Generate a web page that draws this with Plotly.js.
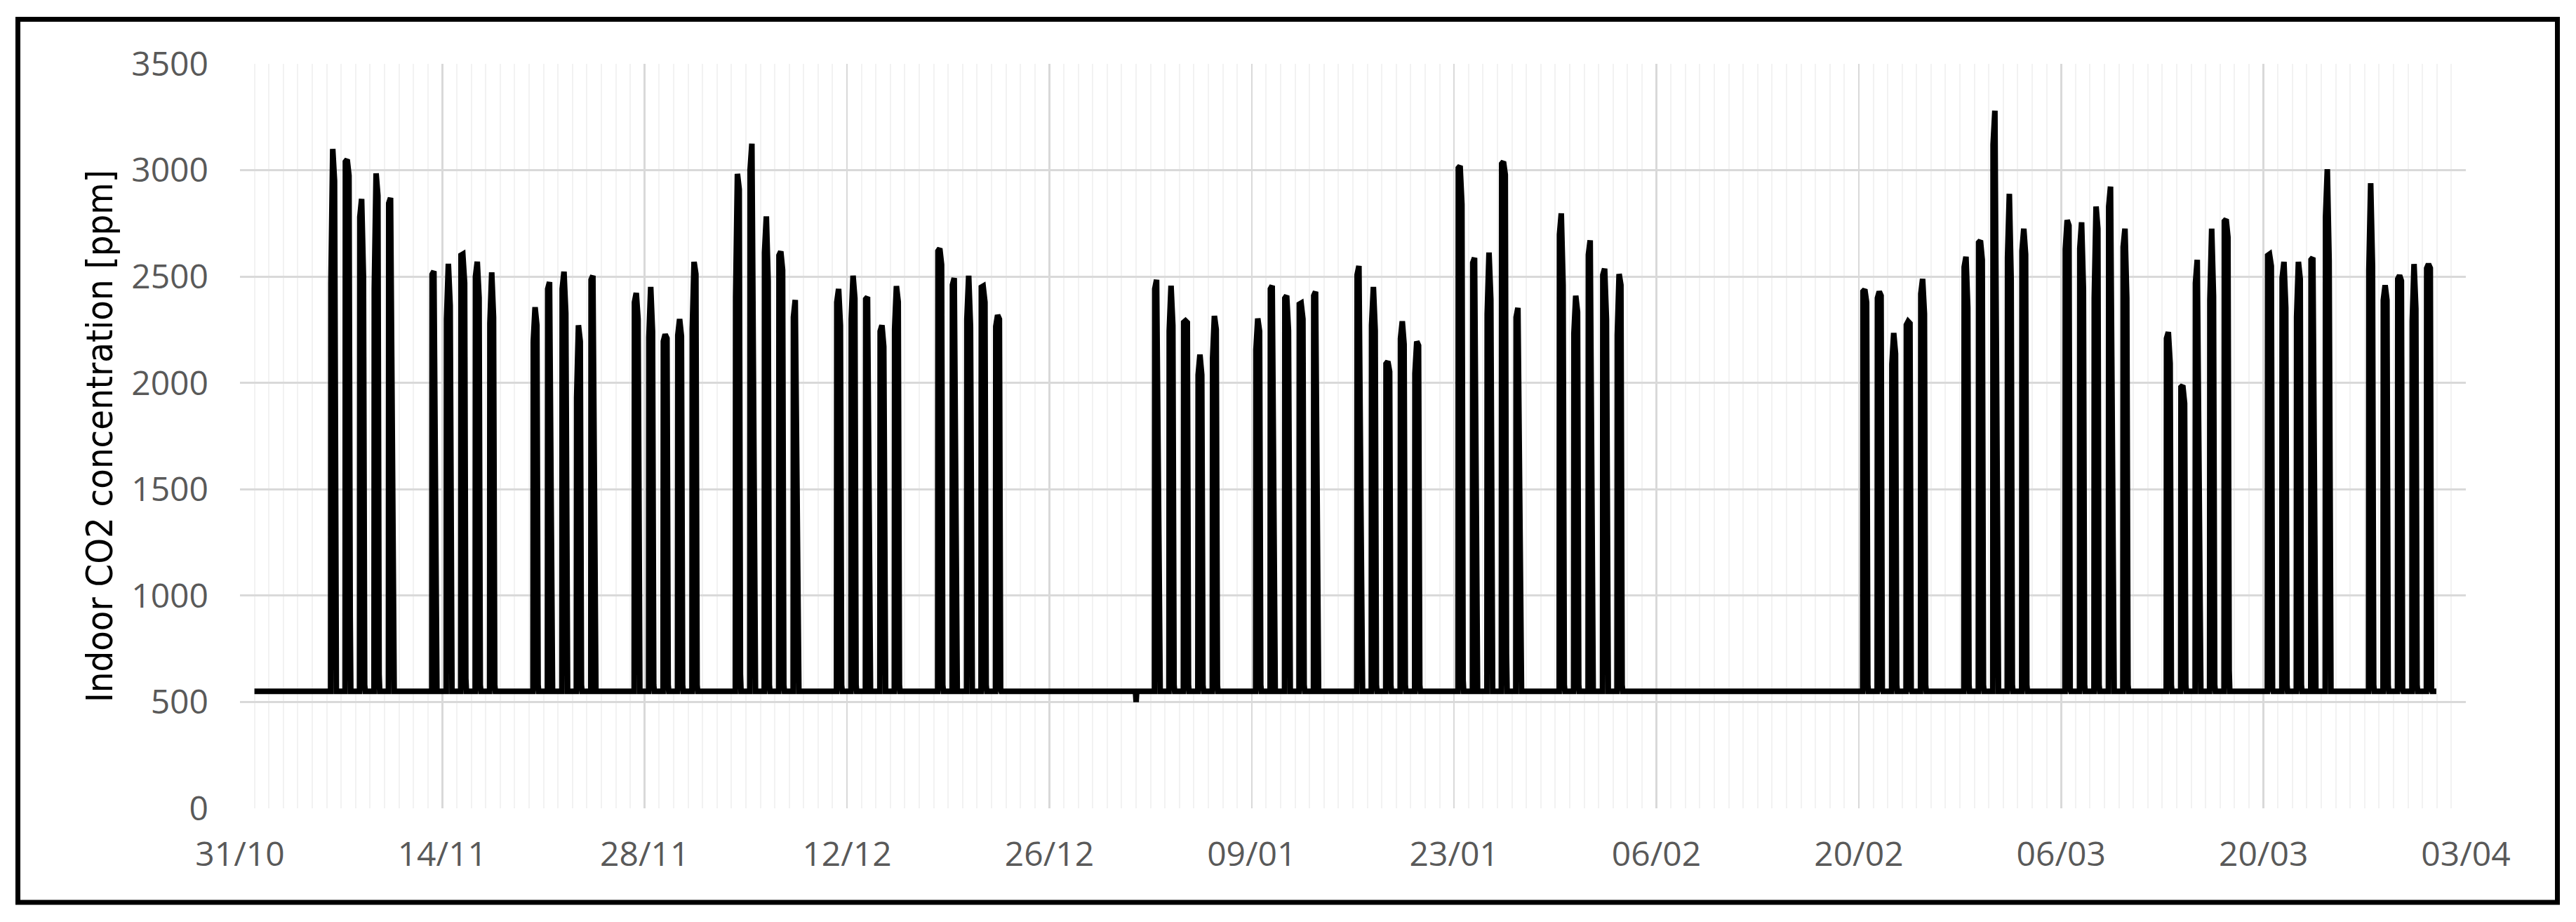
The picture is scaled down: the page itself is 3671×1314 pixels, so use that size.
<!DOCTYPE html>
<html>
<head>
<meta charset="utf-8">
<script src="https://cdn.plot.ly/plotly-3.0.1.min.js"></script>
<style>
  html, body { margin: 0; padding: 0; background: #ffffff; }
  #chart { width: 3671px; height: 1314px; }
</style>
</head>
<body>
<div id="chart"></div>
<script>
// ---------------- DATA ----------------
// Baseline (unoccupied) CO2 level, ppm
const baselineValue = 550;
const seriesStart = '2017-11-01 00:00';
const seriesEnd = '2018-03-31 23:00';

// Off-hours baseline readings bracketing each occupied day
const offHoursBefore = '06:30';
const offHoursAfter = '16:00';
// Reading times within each occupied day
const readingTimes = ['07:00', '10:00', '13:00', '15:00'];

// First day of each five-day block of occupied days
const weekStarts = [
  '2017-11-06', '2017-11-13', '2017-11-20', '2017-11-27', '2017-12-04', '2017-12-11', '2017-12-18',
  '2018-01-02', '2018-01-09', '2018-01-16', '2018-01-23', '2018-01-30',
  '2018-02-20', '2018-02-27', '2018-03-06', '2018-03-13', '2018-03-20', '2018-03-27'
];

// Readings (ppm) for each day of each block: [first, peak, after, tail]
const weekReadings = [
  [[2470, 3100, 2950, 630], [3040, 3050, 2975, 900], [2780, 2865, 2500, 580], [2440, 2985, 2880, 630], [2845, 2870, 1000, 550]],
  [[2510, 2525, 905, 550], [2300, 2560, 2365, 580], [2600, 2605, 2470, 610], [2500, 2570, 2400, 580], [2280, 2520, 2310, 580]],
  [[2195, 2356, 2271, 580], [2442, 2474, 782, 550], [2442, 2523, 2328, 580], [1930, 2271, 2195, 580], [2485, 2504, 848, 550]],
  [[2379, 2423, 2300, 560], [2214, 2451, 2243, 580], [2195, 2228, 2210, 580], [2224, 2300, 2220, 580], [2252, 2569, 2512, 580]],
  [[2404, 2983, 2910, 630], [3001, 3125, 1180, 550], [2613, 2783, 2480, 580], [2600, 2618, 2531, 580], [2309, 2390, 886, 550]],
  [[2379, 2442, 2271, 580], [2300, 2504, 2398, 580], [2394, 2404, 697, 550], [2243, 2271, 2171, 580], [2252, 2455, 2381, 580]],
  [[2620, 2632, 2556, 580], [2461, 2493, 896, 550], [2300, 2504, 2265, 580], [2450, 2455, 2379, 580], [2265, 2319, 2300, 560]],
  [[2442, 2485, 934, 550], [2243, 2457, 2271, 580], [2285, 2292, 2284, 580], [2038, 2133, 2038, 580], [2114, 2315, 2252, 580]],
  [[2157, 2303, 2243, 580], [2442, 2457, 810, 550], [2398, 2410, 2247, 580], [2370, 2375, 2300, 580], [2410, 2429, 858, 550]],
  [[2508, 2550, 1500, 550], [2271, 2451, 2247, 580], [2090, 2101, 2053, 580], [2209, 2290, 2182, 580], [2044, 2195, 2176, 580]],
  [[3010, 3020, 2840, 602], [2565, 2588, 896, 550], [2322, 2613, 2394, 580], [3030, 3040, 2979, 725], [2309, 2353, 1500, 550]],
  [[2698, 2797, 2461, 580], [2233, 2410, 2334, 580], [2603, 2670, 858, 550], [2508, 2537, 2300, 580], [2224, 2512, 2461, 580]],
  [[2430, 2439, 2379, 580], [2399, 2429, 2410, 560], [2088, 2235, 2138, 580], [2273, 2289, 2280, 560], [2419, 2489, 2325, 580]],
  [[2545, 2593, 2353, 580], [2660, 2669, 2579, 580], [3120, 3280, 1438, 550], [2589, 2889, 2489, 580], [2620, 2725, 2605, 580]],
  [[2629, 2765, 2740, 560], [2633, 2755, 2439, 580], [2399, 2829, 2725, 580], [2829, 2923, 987, 550], [2639, 2725, 2399, 580]],
  [[2209, 2239, 2092, 580], [1980, 1988, 1904, 580], [2469, 2579, 987, 550], [2389, 2725, 2409, 580], [2760, 2769, 2685, 647]],
  [[2599, 2605, 2550, 560], [2493, 2569, 2353, 580], [2309, 2569, 2489, 580], [2579, 2589, 817, 550], [2779, 3005, 2573, 580]],
  [[2529, 2939, 2549, 580], [2389, 2459, 2389, 580], [2489, 2505, 2480, 560], [2289, 2559, 2349, 580], [2539, 2559, 2540, 560]]
];

// Short dip recorded around New Year
const dipTimes = ['2017-12-31 23:00', '2018-01-01 00:00', '2018-01-01 01:00'];
const dipValues = [550, 500, 550];

// Axis
const axisStart = '2017-10-31';
const axisEnd = '2018-04-03';
const yMin = 0, yMax = 3500, yStep = 500;
const yTitle = 'Indoor CO2 concentration [ppm]';

// ---------------- BUILD SERIES ----------------
function addDays(dateStr, k) {
  const d = new Date(dateStr + 'T00:00:00Z');
  d.setUTCDate(d.getUTCDate() + k);
  return d.toISOString().slice(0, 10);
}

const pts = [];
pts.push([seriesStart, baselineValue]);
weekStarts.forEach((ws, w) => {
  weekReadings[w].forEach((dayVals, k) => {
    const day = addDays(ws, k);
    pts.push([day + ' ' + offHoursBefore, baselineValue]);
    dayVals.forEach((v, r) => pts.push([day + ' ' + readingTimes[r], v]));
    pts.push([day + ' ' + offHoursAfter, baselineValue]);
  });
});
dipTimes.forEach((t, i) => pts.push([t, dipValues[i]]));
pts.push([seriesEnd, baselineValue]);
pts.sort((a, b) => (a[0] < b[0] ? -1 : a[0] > b[0] ? 1 : 0));

const trace = {
  type: 'scatter',
  mode: 'lines',
  x: pts.map(p => p[0]),
  y: pts.map(p => p[1]),
  line: { color: '#000000', width: 8, shape: 'linear' },
  hoverinfo: 'x+y',
  showlegend: false
};

// ---------------- LAYOUT ----------------
const W = 3671, H = 1314;
const plotL = 342, plotR = 3514, plotT = 91, plotB = 1152;
const pw = plotR - plotL, ph = plotB - plotT;
const px2x = px => (px - plotL) / pw;
const py2y = py => (plotB - py) / ph;

const tickFont = { family: 'Open Sans, Noto Sans, sans-serif', size: 48, color: '#595959' };
const DAY = 86400000;

const layout = {
  width: W,
  height: H,
  margin: { l: plotL, r: W - plotR, t: plotT, b: H - plotB, pad: 0 },
  paper_bgcolor: '#ffffff',
  plot_bgcolor: '#ffffff',
  showlegend: false,
  xaxis: {
    type: 'date',
    range: [axisStart, axisEnd],
    tick0: axisStart,
    dtick: 14 * DAY,
    tickformat: '%d/%m',
    ticks: '',
    showline: false,
    zeroline: false,
    showgrid: true,
    gridcolor: '#d9d9d9',
    gridwidth: 2.5,
    tickfont: tickFont,
    ticklabelstandoff: 33,
    minor: {
      tick0: axisStart,
      dtick: DAY,
      showgrid: true,
      gridcolor: '#f2f2f2',
      gridwidth: 2,
      ticks: ''
    },
    fixedrange: true
  },
  yaxis: {
    range: [yMin, yMax],
    tick0: yMin,
    dtick: yStep,
    ticks: '',
    showline: false,
    zeroline: false,
    showgrid: true,
    gridcolor: '#d9d9d9',
    gridwidth: 3,
    tickfont: tickFont,
    ticklabelstandoff: 44,
    title: {
      text: yTitle,
      font: { family: 'DejaVu Sans Condensed, Liberation Sans Narrow, DejaVu Sans, sans-serif', size: 52, color: '#000000' },
      standoff: 10
    },
    fixedrange: true
  },
  shapes: [
    {
      type: 'rect', xref: 'paper', yref: 'paper',
      x0: px2x(25.5), x1: px2x(3644.5), y0: py2y(1286), y1: py2y(27.5),
      line: { color: '#000000', width: 7 },
      fillcolor: 'rgba(0,0,0,0)',
      layer: 'above'
    }
  ]
};

Plotly.newPlot('chart', [trace], layout, { displayModeBar: false, staticPlot: true });
</script>
</body>
</html>
